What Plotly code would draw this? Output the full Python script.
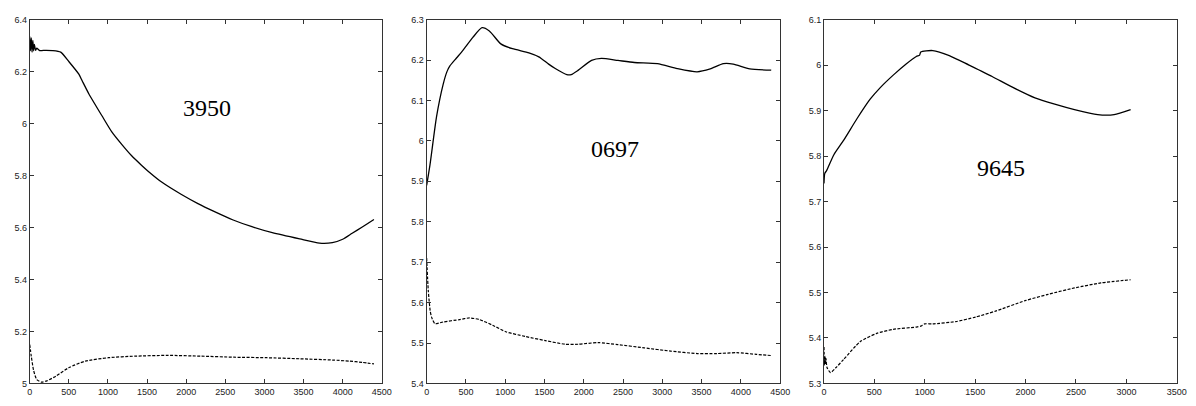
import plotly.graph_objects as go

# ---------------- data ----------------
# Panel 1 (3950)
p1_solid_x = [0, 10, 20, 30, 40, 50, 60, 75, 90, 127, 200, 291, 396, 502, 628, 670, 755, 923, 1049, 1176,
              1300, 1428, 1513, 1700, 1934, 2150, 2355, 2600, 2840, 3100, 3451, 3704, 3868, 4000, 4121,
              4250, 4399]
p1_solid_y = [6.335, 6.28, 6.33, 6.275, 6.32, 6.28, 6.305, 6.282, 6.29, 6.281, 6.282, 6.281, 6.275, 6.238,
              6.19, 6.165, 6.115, 6.03, 5.968, 5.92, 5.877, 5.84, 5.817, 5.772, 5.728, 5.692, 5.662,
              5.629, 5.603, 5.58, 5.556, 5.54, 5.542, 5.555, 5.578, 5.602, 5.631]
p1_dash_x = [0, 20, 50, 90, 150, 220, 333, 502, 712, 1007, 1344, 1766, 2187, 2608, 3030, 3451, 3872, 4083, 4250, 4399]
p1_dash_y = [5.15, 5.105, 5.05, 5.015, 5.005, 5.01, 5.028, 5.061, 5.086, 5.099, 5.105, 5.108, 5.105,
             5.101, 5.099, 5.095, 5.09, 5.086, 5.081, 5.075]

# Panel 2 (0697)
p2_solid_x = [0, 42, 126, 210, 260, 294, 380, 462, 588, 705, 798, 944, 1092, 1302, 1428, 1553, 1637, 1784,
              1840, 1931, 2099, 2225, 2435, 2644, 2938, 3190, 3442, 3610, 3777, 3903, 4113, 4386]
p2_solid_y = [5.89, 5.94, 6.06, 6.14, 6.172, 6.185, 6.205, 6.224, 6.256, 6.28, 6.272, 6.24, 6.228,
              6.218, 6.208, 6.19, 6.179, 6.164, 6.164, 6.175, 6.199, 6.204, 6.199, 6.194, 6.191, 6.179,
              6.171, 6.178, 6.191, 6.19, 6.178, 6.175]
p2_dash_x = [0, 21, 45, 63, 105, 210, 420, 546, 672, 840, 1007, 1259, 1511, 1763, 1931, 2183, 2435,
             2770, 3106, 3442, 3694, 3946, 4197, 4386]
p2_dash_y = [5.71, 5.629, 5.58, 5.564, 5.548, 5.552, 5.558, 5.562, 5.558, 5.544, 5.528, 5.516, 5.506,
             5.497, 5.497, 5.501, 5.496, 5.488, 5.48, 5.474, 5.474, 5.476, 5.472, 5.469]

# Panel 3 (9645)
p3_solid_x = [0, 8, 26, 98, 196, 327, 458, 556, 687, 818, 916, 949, 960, 1079, 1243, 1439, 1668, 1864,
              2093, 2289, 2485, 2715, 2878, 3042]
p3_solid_y = [5.74, 5.762, 5.768, 5.803, 5.835, 5.882, 5.925, 5.95, 5.978, 6.003, 6.019, 6.022, 6.029,
              6.032, 6.021, 6.0, 5.975, 5.952, 5.928, 5.914, 5.902, 5.891, 5.891, 5.902]
p3_dash_x = [0, 5, 10, 15, 20, 30, 65, 120, 196, 360, 523, 687, 916, 960, 998, 1079, 1308, 1504, 1701,
             1995, 2224, 2485, 2747, 3042]
p3_dash_y = [5.38, 5.34, 5.36, 5.342, 5.355, 5.335, 5.324, 5.335, 5.353, 5.392, 5.41, 5.419, 5.424,
             5.426, 5.431, 5.431, 5.436, 5.446, 5.459, 5.482, 5.496, 5.51, 5.521, 5.528]

labels = ["3950", "0697", "9645"]
label_pos_x = [2263, 2392, 1756]
label_pos_y = [6.06, 5.98, 5.774]

x_ranges = [[0, 4500], [0, 4500], [0, 3500]]
y_ranges = [[5.0, 6.4], [5.4, 6.3], [5.3, 6.1]]
y_dticks = [0.2, 0.1, 0.1]

# ---------------- figure ----------------
W, H = 1196, 406
x_domains = [[27 / W, 383 / W], [428.3 / W, 785.7 / W], [830 / W, 1186.7 / W]]
y_domain = [1 - 388 / H, 1 - 15 / H]

series = [
    (p1_solid_x, p1_solid_y, p1_dash_x, p1_dash_y),
    (p2_solid_x, p2_solid_y, p2_dash_x, p2_dash_y),
    (p3_solid_x, p3_solid_y, p3_dash_x, p3_dash_y),
]

fig = go.Figure()
tick_font = dict(family="Liberation Sans Narrow, Arial Narrow, Liberation Sans, sans-serif",
                 size=9, color="#222")
axis_common = dict(showgrid=False, zeroline=False, showline=True, linecolor="#333", linewidth=1,
                   mirror="ticks", ticks="inside", ticklen=4, tickcolor="#333", tickwidth=1,
                   tickfont=tick_font)

for i, (sx, sy, dx, dy) in enumerate(series):
    xa = "x" if i == 0 else f"x{i + 1}"
    ya = "y" if i == 0 else f"y{i + 1}"
    fig.add_trace(go.Scatter(x=sx, y=sy, mode="lines", xaxis=xa, yaxis=ya,
                             line=dict(color="black", width=1.3, shape="spline", smoothing=0.6),
                             showlegend=False))
    fig.add_trace(go.Scatter(x=dx, y=dy, mode="lines", xaxis=xa, yaxis=ya,
                             line=dict(color="black", width=1.2, dash="3px,1.5px",
                                       shape="spline", smoothing=0.6),
                             showlegend=False))
    xkey = "xaxis" if i == 0 else f"xaxis{i + 1}"
    ykey = "yaxis" if i == 0 else f"yaxis{i + 1}"
    fig.update_layout(**{
        xkey: dict(domain=x_domains[i], range=x_ranges[i], dtick=500, tick0=0,
                   anchor=ya, **axis_common),
        ykey: dict(domain=y_domain, range=y_ranges[i], dtick=y_dticks[i], tick0=0,
                   anchor=xa, **axis_common),
    })
    fig.add_annotation(x=label_pos_x[i], y=label_pos_y[i], xref=xa, yref=ya, text=labels[i],
                       showarrow=False,
                       font=dict(family="Liberation Serif, Times New Roman, serif", size=24, color="black"))

fig.update_layout(width=W, height=H, autosize=False,
                  margin=dict(l=0, r=0, t=0, b=0),
                  paper_bgcolor="white", plot_bgcolor="white")

fig.write_html("out.html", config={"displayModeBar": False},
               post_script="document.body.style.margin='0';document.body.style.overflow='hidden';")
